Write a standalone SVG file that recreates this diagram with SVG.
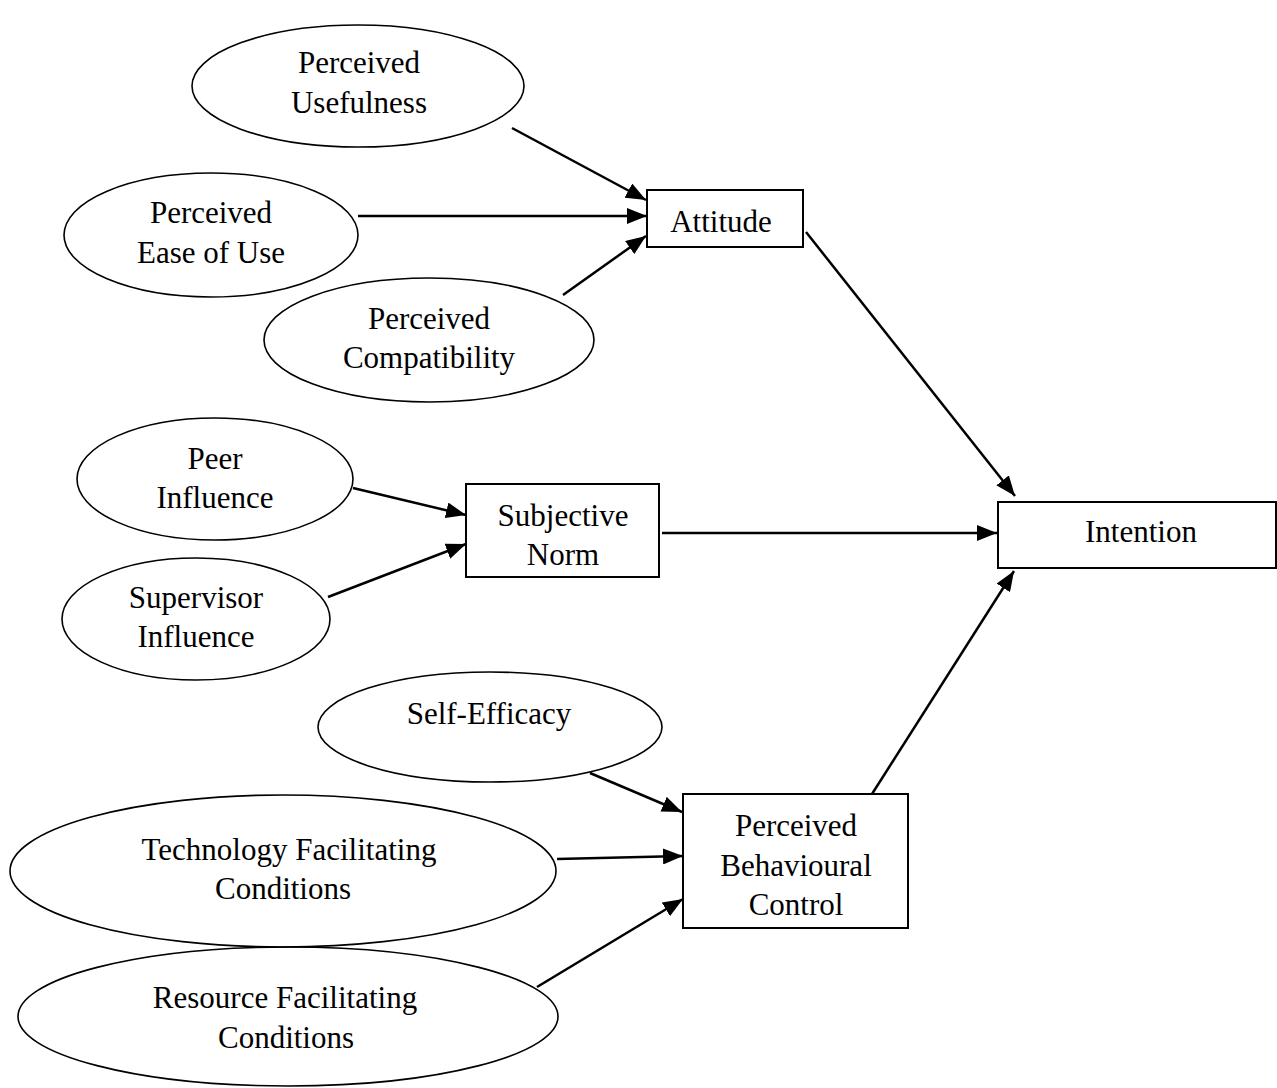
<svg xmlns="http://www.w3.org/2000/svg" width="1277" height="1088" viewBox="0 0 1277 1088">
<style>
.n ellipse{fill:none;stroke:#000;stroke-width:1.6}
.n rect{fill:#fff;stroke:#000;stroke-width:2}
text{font-family:"Liberation Serif","Times New Roman",serif;font-size:31px;fill:#000;text-anchor:middle}
#edges line{stroke:#000;stroke-width:2.5;marker-end:url(#ah)}
</style>
<defs>
<marker id="ah" markerUnits="userSpaceOnUse" markerWidth="22" markerHeight="16" refX="20" refY="8" orient="auto">
<path d="M0,0 L20,8 L0,16 Z" fill="#000"/>
</marker>
</defs>
<rect width="1277" height="1088" fill="#fff"/>
<g id="edges">
<line x1="512" y1="128" x2="646" y2="200"/>
<line x1="358" y1="216" x2="647" y2="216"/>
<line x1="563" y1="295" x2="646" y2="236"/>
<line x1="806" y1="232" x2="1015" y2="496"/>
<line x1="353" y1="488" x2="466" y2="515"/>
<line x1="328" y1="597" x2="466" y2="544"/>
<line x1="662" y1="533" x2="997" y2="533"/>
<line x1="872" y1="794" x2="1014" y2="571"/>
<line x1="590" y1="773" x2="682" y2="812"/>
<line x1="557" y1="859" x2="683" y2="856"/>
<line x1="537" y1="987" x2="683" y2="899"/>
</g>
<g id="n-usefulness" class="n"><ellipse cx="358" cy="86" rx="166" ry="61"/><text x="359" y="73">Perceived</text><text x="359" y="113">Usefulness</text></g>
<g id="n-ease" class="n"><ellipse cx="211" cy="235" rx="147" ry="62"/><text x="211" y="223">Perceived</text><text x="211" y="263">Ease of Use</text></g>
<g id="n-compat" class="n"><ellipse cx="429" cy="340" rx="165" ry="62"/><text x="429" y="329">Perceived</text><text x="429" y="368">Compatibility</text></g>
<g id="n-attitude" class="n"><rect x="647" y="190" width="156" height="57"/><text x="721" y="232">Attitude</text></g>
<g id="n-peer" class="n"><ellipse cx="215" cy="479" rx="138" ry="61"/><text x="215" y="469">Peer</text><text x="215" y="508">Influence</text></g>
<g id="n-supervisor" class="n"><ellipse cx="196" cy="619" rx="134" ry="61"/><text x="196" y="608">Supervisor</text><text x="196" y="647">Influence</text></g>
<g id="n-subjective" class="n"><rect x="466" y="484" width="193" height="93"/><text x="563" y="526">Subjective</text><text x="563" y="565">Norm</text></g>
<g id="n-intention" class="n"><rect x="998" y="502" width="278" height="66"/><text x="1141" y="542">Intention</text></g>
<g id="n-selfefficacy" class="n"><ellipse cx="490" cy="727" rx="172" ry="55"/><text x="489" y="724">Self-Efficacy</text></g>
<g id="n-tech" class="n"><ellipse cx="283" cy="871" rx="273" ry="76"/><text x="289" y="860">Technology Facilitating</text><text x="283" y="899">Conditions</text></g>
<g id="n-pbc" class="n"><rect x="683" y="794" width="225" height="134"/><text x="796" y="836">Perceived</text><text x="796" y="876">Behavioural</text><text x="796" y="915">Control</text></g>
<g id="n-resource" class="n"><ellipse cx="288" cy="1016.5" rx="270" ry="69.5"/><text x="285" y="1008">Resource Facilitating</text><text x="286" y="1048">Conditions</text></g>
</svg>
